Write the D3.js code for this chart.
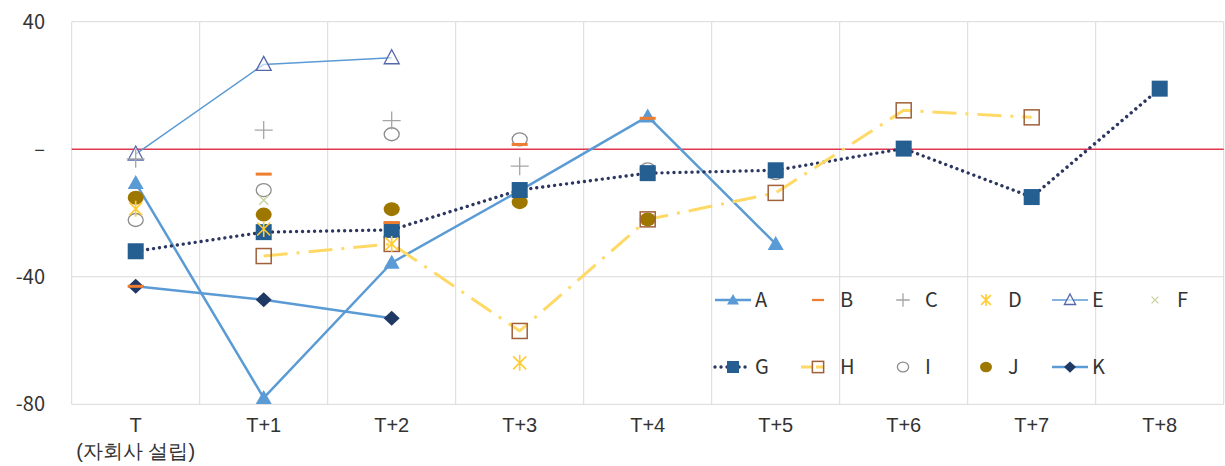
<!DOCTYPE html>
<html>
<head>
<meta charset="utf-8">
<script src="https://cdn.jsdelivr.net/npm/d3@7"></script>
<style>
  html, body { margin: 0; padding: 0; background: #fff; }
  svg { display: block; font-family: "Noto Sans CJK KR", "Noto Sans", sans-serif; }
</style>
</head>
<body>
<svg id="chart" width="1225" height="466"></svg>
<script>
// ---- data ----
const categories = ["T", "T+1", "T+2", "T+3", "T+4", "T+5", "T+6", "T+7", "T+8"];
const subLabels = ["(자회사 설립)", "", "", "", "", "", "", "", ""];
const seriesNames = ["A", "B", "C", "D", "E", "F", "G", "H", "I", "J", "K"];
const valuesA = [-10.6, -78, -35.6, -13, 10.3, -29.7, null, null, null];
const valuesB = [-43, -7.8, -23, 1.5, 9.7, null, null, null, null];
const valuesC = [-3, 6, 9, -5.3, null, null, null, null, null];
const valuesD = [-18.7, -25, -29.7, -67, null, null, null, null, null];
const valuesE = [-1.5, 26.6, 28.7, null, null, null, null, null, null];
const valuesF = [null, -16, null, null, null, null, null, null, null];
const valuesG = [-32, -26, -25.3, -12.8, -7.5, -6.6, 0.2, -15, 19];
const valuesH = [null, -33.5, -29.7, -57, -22, -13.7, 12.2, 10, null];
const valuesI = [-22.2, -12.8, 4.7, 3.1, -6.3, -7.5, null, null, null];
const valuesJ = [-15.2, -20.5, -18.8, -16.6, -22, null, null, null, null];
const valuesK = [-43, -47.2, -53, null, null, null, null, null, null];
const yTickValues = [-80, -40, 0, 40];
const yTickLabels = ["-80", "-40", "–", "40"];

// ---- styles ----
const BLUE = "#5B9BD5";
const style = {
  A: { marker: "triangle", fill: BLUE, line: { color: BLUE, width: 2.5, dash: null } },
  B: { marker: "dash", fill: "#ED7D31" },
  C: { marker: "plus", stroke: "#A5A5A5" },
  D: { marker: "asterisk", stroke: "#FFCC33" },
  E: { marker: "triangleOpen", stroke: "#5468A8", line: { color: BLUE, width: 1.5, dash: null } },
  F: { marker: "x", stroke: "#C9D3A0" },
  G: { marker: "square", fill: "#255E91", line: { color: "#2B3760", width: 3.4, dash: "0.01,6", cap: "round" } },
  H: { marker: "squareOpen", stroke: "#A0603A", line: { color: "#FFD966", width: 3, dash: "24,9,3,9" } },
  I: { marker: "circleOpen", stroke: "#8C8C8C" },
  J: { marker: "circle", fill: "#9E7700" },
  K: { marker: "diamond", fill: "#203864", line: { color: BLUE, width: 2.5, dash: null } }
};
const dataMap = { A: valuesA, B: valuesB, C: valuesC, D: valuesD, E: valuesE, F: valuesF,
                  G: valuesG, H: valuesH, I: valuesI, J: valuesJ, K: valuesK };

const svg = d3.select("#chart");
const x = d3.scaleBand().domain(categories).range([71.7, 1223.7]).padding(0);
const y = d3.scaleLinear().domain([-80, 40]).range([404.3, 21.7]);
const cx = c => x(c) + x.bandwidth() / 2;

// ---- grid ----
const grid = svg.append("g");
const bounds = categories.map(c => x(c)).concat([x.range()[1]]);
grid.selectAll("line.v").data(bounds).join("line")
  .attr("x1", d => d).attr("x2", d => d)
  .attr("y1", y(40)).attr("y2", y(-80))
  .attr("stroke", "#D9D9D9").attr("stroke-width", 1);
grid.selectAll("line.h").data(yTickValues.filter(v => v !== 0)).join("line")
  .attr("x1", x.range()[0]).attr("x2", x.range()[1])
  .attr("y1", d => y(d)).attr("y2", d => y(d))
  .attr("stroke", "#D9D9D9").attr("stroke-width", 1);
svg.append("line")
  .attr("x1", x.range()[0]).attr("x2", x.range()[1])
  .attr("y1", y(0)).attr("y2", y(0))
  .attr("stroke", "#E0364F").attr("stroke-width", 1.4);

// ---- axes ----
const yAxis = d3.axisLeft(y).tickValues(yTickValues)
  .tickFormat(d => yTickLabels[yTickValues.indexOf(d)]).tickSize(0).tickPadding(0);
const yg = svg.append("g").attr("transform", "translate(45,0)").call(yAxis);
yg.select(".domain").remove();
yg.selectAll("text").attr("font-size", 20).attr("fill", "#333")
  .attr("font-family", "'Noto Sans CJK KR', sans-serif");

const xAxis = d3.axisBottom(x).tickSize(0).tickPadding(0);
const xg = svg.append("g").attr("transform", "translate(0,404)").call(xAxis);
xg.select(".domain").remove();
xg.selectAll("text").remove();
xg.selectAll(".tick").each(function (d, i) {
  const t = d3.select(this).append("text").attr("text-anchor", "middle")
    .attr("font-size", 20).attr("fill", "#333");
  t.append("tspan").attr("x", 0).attr("y", 28).text(d);
  if (subLabels[i]) t.append("tspan").attr("x", 0).attr("y", 54).text(subLabels[i]);
});

// ---- marker drawing ----
function drawMarker(g, type, s, px, py, k) {
  const m = g.append("g").attr("transform", `translate(${px},${py})`);
  switch (type) {
    case "triangle":
      m.append("path").attr("d", `M0,${-8*k}L${8*k},${6*k}L${-8*k},${6*k}Z`).attr("fill", s.fill); break;
    case "triangleOpen":
      m.append("path").attr("d", `M0,${-8*k}L${7.5*k},${6*k}L${-7.5*k},${6*k}Z`)
        .attr("fill", "#fff").attr("fill-opacity", 0.6).attr("stroke", s.stroke).attr("stroke-width", 1.3); break;
    case "dash":
      m.append("rect").attr("x", -8*k).attr("y", -1.5*k).attr("width", 16*k).attr("height", 3*k).attr("fill", s.fill); break;
    case "plus":
      m.append("path").attr("d", `M${-9*k},0H${9*k}M0,${-9*k}V${9*k}`).attr("stroke", s.stroke).attr("stroke-width", 1.3); break;
    case "asterisk":
      m.append("path").attr("d", `M0,${-8*k}V${8*k}M${-6.5*k},${-6.5*k}L${6.5*k},${6.5*k}M${6.5*k},${-6.5*k}L${-6.5*k},${6.5*k}`)
        .attr("stroke", s.stroke).attr("stroke-width", 1.6); break;
    case "x":
      m.append("path").attr("d", `M${-4.5*k},${-4.5*k}L${4.5*k},${4.5*k}M${4.5*k},${-4.5*k}L${-4.5*k},${4.5*k}`)
        .attr("stroke", s.stroke).attr("stroke-width", 1.4); break;
    case "square":
      m.append("rect").attr("x", -8*k).attr("y", -8*k).attr("width", 16*k).attr("height", 16*k).attr("fill", s.fill); break;
    case "squareOpen":
      m.append("rect").attr("x", -7.5*k).attr("y", -7.5*k).attr("width", 15*k).attr("height", 15*k)
        .attr("fill", "none").attr("stroke", s.stroke).attr("stroke-width", 1.5); break;
    case "circleOpen":
      m.append("ellipse").attr("rx", 7.5*k).attr("ry", 6.5*k).attr("fill", "#fff")
        .attr("stroke", s.stroke).attr("stroke-width", 1.3); break;
    case "circle":
      m.append("ellipse").attr("rx", 8*k).attr("ry", 7*k).attr("fill", s.fill); break;
    case "diamond":
      m.append("path").attr("d", `M0,${-7.5*k}L${8*k},0L0,${7.5*k}L${-8*k},0Z`).attr("fill", s.fill); break;
  }
}

// ---- lines ----
const lineGen = d3.line().defined(d => d.v !== null).x(d => cx(d.c)).y(d => y(d.v));
const linesG = svg.append("g");
seriesNames.forEach(name => {
  const s = style[name];
  if (!s.line) return;
  const pts = categories.map((c, i) => ({ c, v: dataMap[name][i] })).filter(d => d.v !== null);
  linesG.append("path").datum(pts).attr("d", lineGen)
    .attr("fill", "none").attr("stroke", s.line.color).attr("stroke-width", s.line.width)
    .attr("stroke-dasharray", s.line.dash).attr("stroke-linecap", s.line.cap || "butt")
    .attr("stroke-linejoin", "round");
});

// ---- markers ----
const markerOrder = ["A", "E", "K", "I", "J", "H", "G", "C", "D", "F", "B"];
const markersG = svg.append("g");
markerOrder.forEach(name => {
  const s = style[name];
  categories.forEach((c, i) => {
    const v = dataMap[name][i];
    if (v === null) return;
    drawMarker(markersG, s.marker, s, cx(c), y(v), 1);
  });
});

// ---- legend ----
const legCols = [733, 818, 903, 986, 1070, 1155];
const legRows = [300, 367];
const lg = svg.append("g");
seriesNames.forEach((name, i) => {
  const s = style[name];
  const lx = legCols[i % 6], ly = legRows[Math.floor(i / 6)];
  if (s.line) {
    const x0 = name === "H" ? lx - 17 : lx - 18;
    const x1 = name === "H" ? lx + 6 : lx + 18;
    lg.append("line").attr("x1", x0).attr("x2", x1).attr("y1", ly).attr("y2", ly)
      .attr("stroke", s.line.color).attr("stroke-width", s.line.width)
      .attr("stroke-dasharray", name === "H" ? "12,3" : s.line.dash)
      .attr("stroke-linecap", s.line.cap || "butt");
  }
  drawMarker(lg, s.marker, s, lx, ly, 0.75);
  lg.append("text").attr("x", lx + 22).attr("y", ly).attr("dy", "0.35em")
    .attr("font-size", 20).attr("fill", "#333").text(name);
});
</script>
</body>
</html>
